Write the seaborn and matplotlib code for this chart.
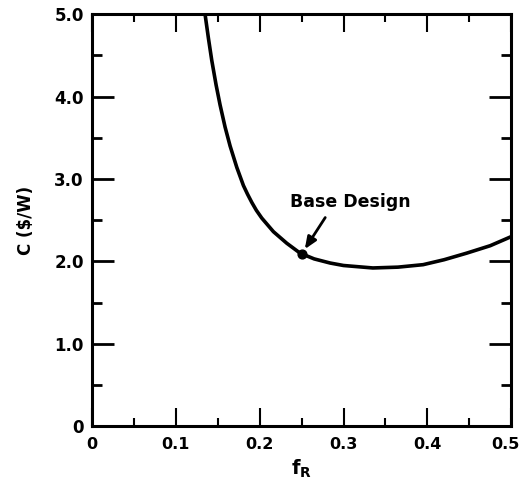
import matplotlib
matplotlib.use("Agg")
import matplotlib.pyplot as plt
import matplotlib.transforms as mtransforms
import seaborn as sns
import pandas as pd
from matplotlib.ticker import MultipleLocator

# Data
f_R = [0.1348, 0.1388, 0.1428, 0.148, 0.1527, 0.1587, 0.1647, 0.1727, 0.1806,
       0.1855, 0.1906, 0.196, 0.2025, 0.2164, 0.2323, 0.2482, 0.265, 0.284,
       0.30, 0.335, 0.365, 0.395, 0.42, 0.447, 0.475, 0.50]
C = [5.0, 4.71, 4.44, 4.14, 3.90, 3.63, 3.40, 3.14, 2.92,
     2.815, 2.715, 2.62, 2.525, 2.36, 2.22, 2.10, 2.03, 1.98,
     1.95, 1.92, 1.93, 1.96, 2.02, 2.10, 2.19, 2.30]
base_f = [0.25]
base_C = [2.09]
x_ticks = [0, 0.1, 0.2, 0.3, 0.4, 0.5]
x_labels = ["0", "0.1", "0.2", "0.3", "0.4", "0.5"]
y_ticks = [0, 1, 2, 3, 4, 5]
y_labels = ["0", "1.0", "2.0", "3.0", "4.0", "5.0"]

sns.set_theme(style="ticks")
plt.rcParams['font.family'] = ['DejaVu Sans']
for k in ["text.color", "xtick.color", "ytick.color", "axes.labelcolor"]:
    plt.rcParams[k] = "black"

df = pd.DataFrame({"f_R": f_R, "C": C})

fig = plt.figure(figsize=(5.2, 4.86), dpi=100)
ax = fig.add_axes([0.177, 0.123, 0.806, 0.848])

sns.lineplot(data=df, x="f_R", y="C", ax=ax, color="black", linewidth=2.6,
             sort=False, estimator=None)
ax.scatter(base_f, base_C, s=40, color="black", zorder=5)

ax.set_xlim(0, 0.5)
ax.set_ylim(0, 5.0)
ax.set_xticks(x_ticks)
ax.set_xticklabels(x_labels, fontsize=11.5, fontweight="bold")
ax.set_yticks(y_ticks)
ax.set_yticklabels(y_labels, fontsize=12, fontweight="bold")
ax.xaxis.set_minor_locator(MultipleLocator(0.05))
ax.yaxis.set_minor_locator(MultipleLocator(0.5))

ax.tick_params(which="major", axis="y", direction="in", length=16, width=2,
               left=True, right=True, pad=6)
ax.tick_params(which="minor", axis="y", direction="in", length=7, width=2,
               left=True, right=True)
ax.tick_params(which="major", axis="x", direction="in", length=13, width=1.5,
               top=True, bottom=True, pad=8)
ax.tick_params(which="minor", axis="x", direction="in", length=6, width=1.5,
               top=True, bottom=True)

# nudge last x tick label inward so it stays inside the figure
last = ax.get_xticklabels()[-1]
last.set_transform(last.get_transform() +
                   mtransforms.ScaledTranslation(-6 / 100, 0, fig.dpi_scale_trans))

for s in ax.spines.values():
    s.set_linewidth(2.2)
    s.set_color("black")

ax.set_xlabel(r"$\mathbf{f_R}$", fontsize=14, labelpad=4)
ax.set_ylabel(r"C (\$/W)", fontsize=12, fontweight="bold", labelpad=14)

ax.text(0.308, 2.72, "Base Design", fontsize=12.5, fontweight="bold",
        ha="center", va="center")
ax.annotate("", xy=(0.252, 2.12), xytext=(0.280, 2.56),
            arrowprops=dict(arrowstyle="-|>,head_length=0.6,head_width=0.25",
                            color="black", lw=2))

fig.savefig("out.png", dpi=100)
